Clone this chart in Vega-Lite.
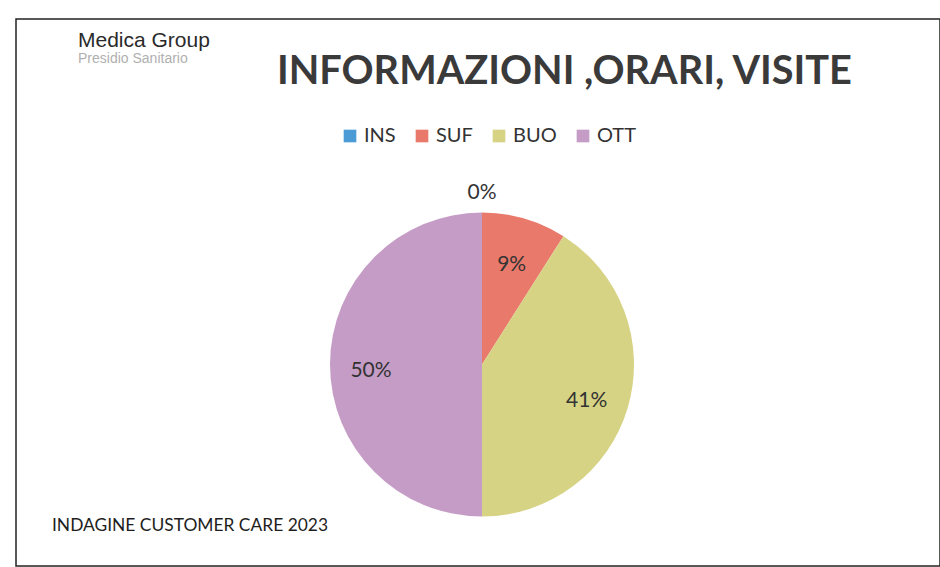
{
  "$schema": "https://vega.github.io/schema/vega-lite/v6.json",
  "autosize": "none",
  "width": 924,
  "height": 547,
  "padding": {"left": 16, "top": 19, "right": 0, "bottom": 1},
  "background": "white",
  "view": {"stroke": "#222222", "strokeWidth": 1.5},
  "title": {
    "text": "INFORMAZIONI ,ORARI, VISITE",
    "anchor": "start",
    "frame": "group",
    "orient": "top",
    "offset": 0,
    "dx": 261,
    "dy": 105,
    "baseline": "alphabetic",
    "font": "Lato",
    "fontSize": 39.7,
    "fontWeight": "bold",
    "color": "#3a3a3a"
  },
  "data": {
    "values": [
      {"categoria": "INS", "ordine": 1, "quota": 0.0},
      {"categoria": "SUF", "ordine": 2, "quota": 0.09},
      {"categoria": "BUO", "ordine": 3, "quota": 0.41},
      {"categoria": "OTT", "ordine": 4, "quota": 0.50}
    ]
  },
  "encoding": {
    "theta": {"field": "quota", "type": "quantitative", "stack": true},
    "order": {"field": "ordine", "type": "quantitative", "sort": "ascending"},
    "color": {
      "field": "categoria",
      "type": "nominal",
      "sort": ["INS", "SUF", "BUO", "OTT"],
      "scale": {
        "domain": ["INS", "SUF", "BUO", "OTT"],
        "range": ["#4a9bd6", "#e9796b", "#d6d384", "#c59cc6"]
      },
      "legend": {
        "title": null,
        "orient": "none",
        "direction": "horizontal",
        "legendX": 324,
        "legendY": 107,
        "symbolType": "square",
        "symbolSize": 160,
        "symbolStrokeWidth": 0,
        "labelFont": "Lato",
        "labelFontSize": 20,
        "labelColor": "#333333",
        "labelOffset": 4,
        "columnPadding": 16,
        "padding": 0
      }
    }
  },
  "layer": [
    {
      "mark": {"type": "arc", "outerRadius": 152, "xOffset": 4, "yOffset": 72, "stroke": null}
    },
    {
      "transform": [{"filter": "datum.quota > 0"}],
      "mark": {"type": "text", "radius": 110, "xOffset": 3, "yOffset": 78, "font": "Lato", "fontSize": 21},
      "encoding": {
        "text": {"field": "quota", "type": "quantitative", "format": ".0%"},
        "color": {"value": "#333333"}
      }
    },
    {
      "transform": [{"filter": "datum.quota == 0"}],
      "mark": {"type": "text", "radius": 172, "xOffset": 4, "yOffset": 72, "font": "Lato", "fontSize": 21},
      "encoding": {
        "text": {"field": "quota", "type": "quantitative", "format": ".0%"},
        "color": {"value": "#333333"}
      }
    },
    {
      "data": {"values": [{"testo": "Medica Group"}]},
      "mark": {"type": "text", "x": 62, "y": 28, "align": "left", "baseline": "alphabetic", "font": "Liberation Sans", "fontSize": 21, "color": "#2a2a2a"},
      "encoding": {"text": {"field": "testo"}, "theta": null, "color": null, "order": null}
    },
    {
      "data": {"values": [{"testo": "Presidio Sanitario"}]},
      "mark": {"type": "text", "x": 62, "y": 44, "align": "left", "baseline": "alphabetic", "font": "Liberation Sans", "fontSize": 14, "color": "#b0b0b0"},
      "encoding": {"text": {"field": "testo"}, "theta": null, "color": null, "order": null}
    },
    {
      "data": {"values": [{"testo": "INDAGINE CUSTOMER CARE 2023"}]},
      "mark": {"type": "text", "x": 36, "y": 512, "align": "left", "baseline": "alphabetic", "font": "Lato", "fontSize": 17.4, "color": "#1e1e1e"},
      "encoding": {"text": {"field": "testo"}, "theta": null, "color": null, "order": null}
    }
  ]
}
